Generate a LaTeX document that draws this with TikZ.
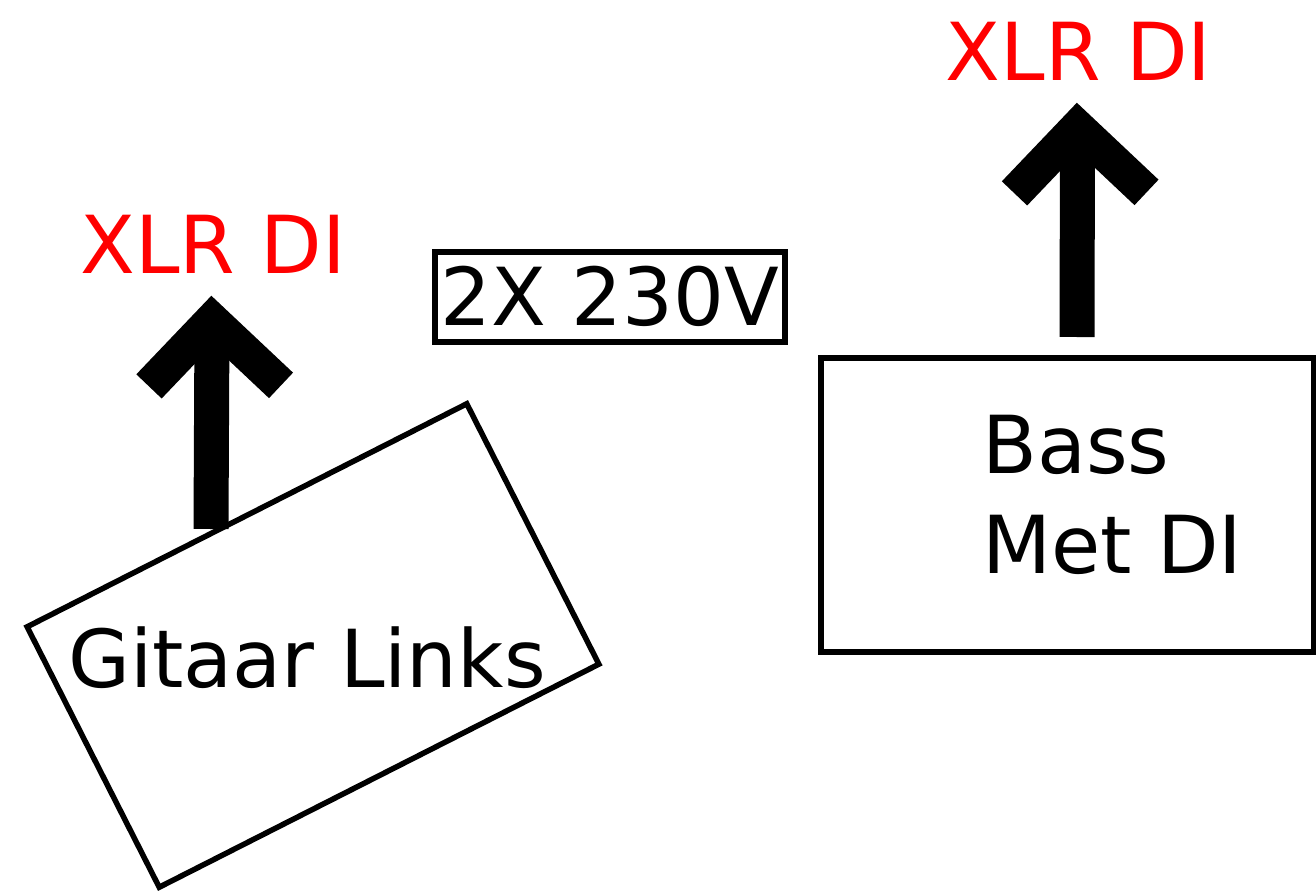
\documentclass[tikz,border=0pt]{standalone}
\usepackage{fontspec}
\setmainfont{DejaVu Sans}

\begin{document}
\begin{tikzpicture}[x=1pt,y=-1pt,font=\fontsize{80}{100}\selectfont,
  box/.style={draw, line width=6, inner sep=0},
  txt/.style={inner sep=0, anchor=base},
  shaft/.style={line width=35},
  barb/.style={line width=35, line join=miter}]
\useasboundingbox (0,0) rectangle (1316,893);
% tilted guitar amp
\node (gitaar) [box, line width=5.5, minimum width=493, minimum height=292, rotate=26.9] at (313,645.5) {};
\node (gitaarname) [txt] at (307,687) {Gitaar Links};
\coordinate (gfoot) at (211,529);
\coordinate (gtip) at (212,320.4);
\draw [shaft] (gfoot) -- (gtip);
\draw [barb] (gtip) +(-63,66) -- (gtip) -- +(69,65);
\node (xlrleft) [txt, text=red] at (213,273) {XLR DI};
% power
\node (power) [box, minimum width=350, minimum height=90] at (610,296.6) {2X 230V};
% bass amp
\node (bass) [box, minimum width=493, minimum height=294] at (1067,505) {};
\node (bassname) [align=left, anchor=north west, inner sep=0] at (982,415) {Bass\\Met DI};
\coordinate (bfoot) at (1077,337);
\coordinate (btip) at (1077.5,127.4);
\draw [shaft] (bfoot) -- (btip);
\draw [barb] (btip) +(-63,66) -- (btip) -- +(69,65);
\node (xlrright) [txt, text=red] at (1078.5,81) {XLR DI};
\end{tikzpicture}
\end{document}
